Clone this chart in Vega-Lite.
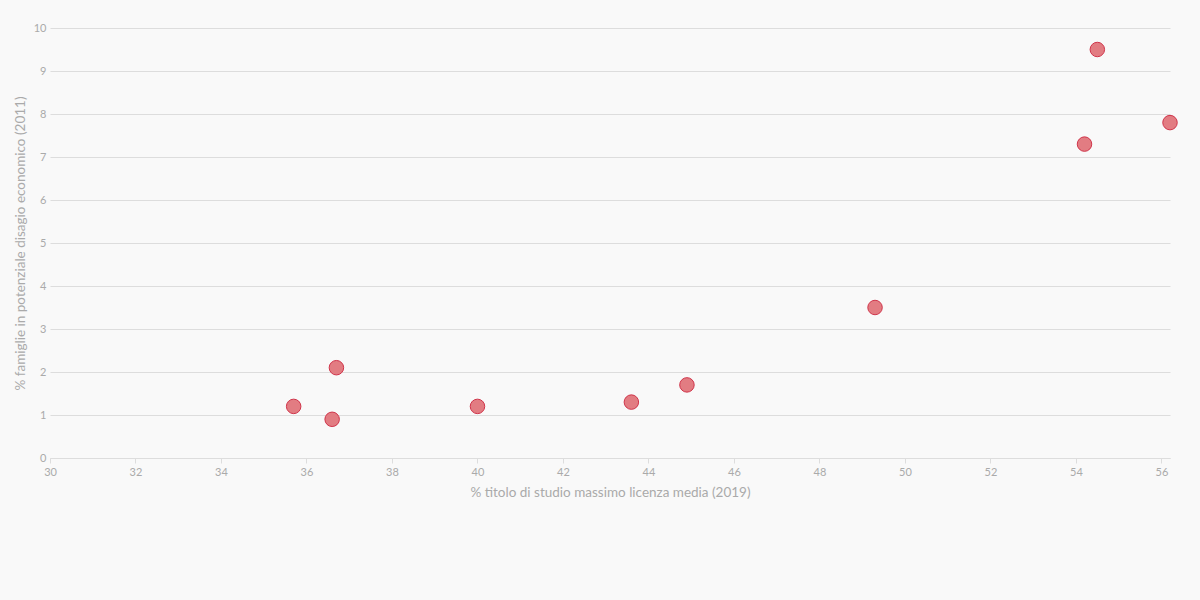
{
  "$schema": "https://vega.github.io/schema/vega-lite/v6.json",
  "width": 1120,
  "height": 430,
  "autosize": {"type": "none"},
  "padding": {"left": 50, "top": 28, "right": 30, "bottom": 142},
  "background": "#f9f9f9",
  "config": {
    "view": {"stroke": null},
    "font": "Lato"
  },
  "data": {
    "values": [
      {"licenza_media": 35.7, "disagio": 1.2},
      {"licenza_media": 36.6, "disagio": 0.9},
      {"licenza_media": 36.7, "disagio": 2.1},
      {"licenza_media": 40.0, "disagio": 1.2},
      {"licenza_media": 43.6, "disagio": 1.3},
      {"licenza_media": 44.9, "disagio": 1.7},
      {"licenza_media": 49.3, "disagio": 3.5},
      {"licenza_media": 54.2, "disagio": 7.3},
      {"licenza_media": 54.5, "disagio": 9.5},
      {"licenza_media": 56.2, "disagio": 7.8}
    ]
  },
  "mark": {"type": "point", "filled": true, "shape": "circle", "size": 210, "fill": "#e27c82", "fillOpacity": 1, "stroke": "#d0344a", "strokeWidth": 1},
  "encoding": {
    "x": {
      "field": "licenza_media", "type": "quantitative",
      "scale": {"domain": [30, 56.2], "nice": false, "zero": false},
      "axis": {
        "title": "% titolo di studio massimo licenza media (2019)",
        "values": [30, 32, 34, 36, 38, 40, 42, 44, 46, 48, 50, 52, 54, 56],
        "grid": false,
        "labelFlush": false,
        "domainColor": "#dddddd",
        "tickColor": "#dddddd",
        "tickSize": 5,
        "labelColor": "#aaaaaa",
        "labelFontSize": 11,
        "labelPadding": 3,
        "titleColor": "#aaaaaa",
        "titleFontSize": 13.5,
        "titleFontWeight": "normal",
        "titlePadding": 8
      }
    },
    "y": {
      "field": "disagio", "type": "quantitative",
      "scale": {"domain": [0, 10], "nice": false},
      "axis": {
        "title": "% famiglie in potenziale disagio economico (2011)",
        "values": [0, 1, 2, 3, 4, 5, 6, 7, 8, 9, 10],
        "domain": false,
        "ticks": false,
        "gridColor": "#dddddd",
        "labelColor": "#aaaaaa",
        "labelFontSize": 11,
        "labelPadding": 4,
        "titleColor": "#aaaaaa",
        "titleFontSize": 13.5,
        "titleFontWeight": "normal",
        "titlePadding": 6
      }
    }
  }
}
